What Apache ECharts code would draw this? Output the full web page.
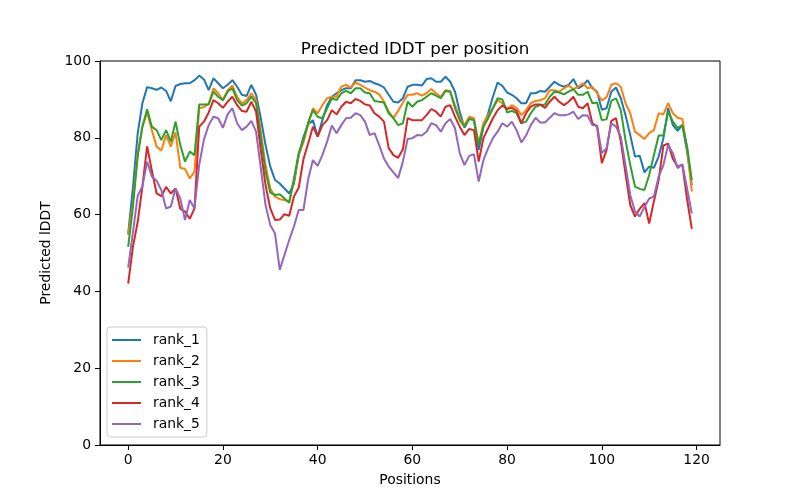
<!DOCTYPE html>
<html>
<head>
<meta charset="utf-8">
<script src="https://cdn.jsdelivr.net/npm/echarts@6/dist/echarts.min.js"></script>
<style>html,body{margin:0;padding:0;background:#fff}#c{width:800px;height:500px}</style>
</head>
<body>
<div id="c"></div>
<script>
const seriesNames = ["rank_1", "rank_2", "rank_3", "rank_4", "rank_5"];
const seriesColors = ["#1f77b4", "#ff7f0e", "#2ca02c", "#d62728", "#9467bd"];
const xTicks = [0, 20, 40, 60, 80, 100, 120];
const yTicks = [0, 20, 40, 60, 80, 100];

const rank_1 = [55,67,81,89,93.2,92.9,92.5,93.1,92.2,89.5,93.5,94,94.2,94.2,95,96.2,95.2,92.4,95.5,94.2,
92.9,93.8,95,93.3,91.2,90.9,93.8,91.2,85.1,78.1,72.5,69,68.1,66.8,65.5,68.1,75.5,80.2,83.5,84.6,
80.3,84.6,88.5,90.7,91.6,92.4,92.9,92.9,95,95,94.6,94.8,94.2,93.8,93.1,91.2,89.4,89.2,90.3,93.3,
93.8,93.8,93.6,95.3,95.5,94.6,94.6,95.9,94.6,92,86.8,82.6,85.1,84.6,76.8,82.9,86.4,90.7,94.4,93.5,
91.8,91.2,90.3,89,89,91.6,91.6,92.2,92,93.3,94.6,93.8,93.3,93.8,95.3,92.9,93.6,95,92.9,92,
87.3,87.7,92,93.1,90.3,85.9,80.7,75.1,75.3,71,72.5,72.2,75.1,79.9,87.7,83.3,81.8,83.3,76.4,67.7];

const rank_2 = [54.7,62.9,76,82.9,86.6,82,77.7,76.7,80.7,77.7,81.4,72.2,71.9,69.4,71.2,87.7,88,88.9,92.9,91.6,
89.8,92.4,93.6,90.7,88.9,89.8,91.6,89.8,81.6,72.9,66.8,64.7,64,63.8,63.4,68.6,75.5,78.8,83.5,87.7,
86.4,88.5,90.3,90.7,90.7,93.3,93.8,93.1,94.4,93.8,93.1,92.4,92,91.3,89.4,86.8,85.2,87,89.2,91.2,
91.2,91.6,91,91.6,92.7,91.6,90.7,92.4,92.2,88.5,85.1,83.3,85.5,85.1,78.6,83.8,85.9,87.7,89.8,89,
87.5,88.5,87.8,85.9,87.2,89,89.6,89.8,90.3,92.4,92.4,92,92.9,93.6,92.7,93.3,94.2,92.9,93.3,91.6,
89.7,90.6,93.8,94.2,93.3,89,86.4,81.6,80.7,79.7,81.2,82,86.4,86.1,89,86.4,85.2,84.9,77.3,66];

const rank_3 = [51.6,62,75.1,82.9,87.4,82.9,82,79.4,82,79,84.2,78.1,73.8,76.4,75.5,88.7,88.7,88.7,92,90.7,
89.8,92,92.9,89.8,88.4,89,90.7,89,80.3,71.2,65.7,65.1,65.3,64.2,63.1,69.4,76,79.5,84,87.2,
85.5,85.1,87.7,90.3,89.8,91.6,92.2,91.6,92.9,92.9,91.8,91.6,89.6,89.4,89.2,86.4,85.1,83.3,83.8,89.4,
88.1,89.4,89.8,90.7,91.6,91,90.3,92.2,92,87.7,84.6,82.9,84.9,84.6,78.1,82.9,85.1,87.7,90.3,90,
86.6,87,86.4,83.8,84.2,86.4,88.1,88.5,88.7,90.7,92,91.8,91.3,92,92.7,91.2,91.2,92,89,89.2,
84.6,84.8,89.6,90.3,87.2,79.4,72.9,67.3,66.7,66.4,70.3,75.5,80.6,80.6,86.8,84.2,82.5,83.3,77.7,69];

const rank_4 = [42,51.6,58,67.3,77.8,71.4,65.5,64.8,67.2,65.5,66.8,61.5,60.8,58.9,61.6,82.9,84.2,86.6,89.8,89,
87.8,89.4,90.7,88.5,87,86.8,89.4,86.8,76.8,67.7,61.6,58.6,58.7,60.1,59.7,64.7,67,74.4,78.5,82.9,
80.3,83.3,84.6,87.2,86.1,88.1,89.4,89,90.1,89.6,88.7,88.4,86.4,85.5,84.2,77.3,75.5,74.8,77,85.1,
84.6,84.6,84.6,85.9,87.5,86.8,85.5,88.1,88.5,85.5,82.9,80.7,82.3,82,73.8,79.9,82.5,85.1,87.2,88.4,
87.5,87.8,87,83.8,86.4,88.1,88.7,88.7,87.8,89.4,90.7,89.4,88.5,89.4,90.7,88.1,87.7,89,83.8,82.9,
73.4,76.8,84.4,85.1,79,70.7,62.5,59.5,61.5,63,57.7,63.5,69,78,78.5,74.5,72.5,73,64,56.3];

const rank_5 = [46.2,55.3,64.9,67.3,73.8,69.9,68.8,66.4,61.6,62.1,66.8,64.2,58.6,63.8,61.6,73,79.6,83.3,85.5,85.1,
82.6,86.1,87.7,83.8,82,82.9,84.4,81.6,72.1,62.5,57.3,55.1,45.6,49.5,53.4,56.9,61.2,61.2,69.2,74.2,
72.7,75.5,79,83.2,81.2,83.3,85.1,85.2,86.4,85.9,84.2,80.7,81.2,78.1,74.6,72.5,71,69.5,73.8,79.7,
79.9,80.7,80.6,81.6,83.8,83.3,81.6,83.8,84.9,82.5,76,72.9,75.3,75.7,68.6,74.2,77.3,79.9,81.6,83.8,
82.9,84.2,82,78.8,80.6,83.3,85.2,84,84,85.2,86.4,85.9,85.9,86.1,86.8,84.9,85.9,85.8,83.3,83.2,
76,77.3,83.8,82.9,80.3,72.9,65.1,60.8,59.5,62,64.2,64.7,69.9,72.9,78.1,76,72.1,73.1,66.8,60.3];

const allSeries = [rank_1, rank_2, rank_3, rank_4, rank_5];
const FONT = "DejaVu Sans";

const chart = echarts.init(document.getElementById('c'), null, {renderer: 'canvas'});
chart.setOption({
  animation: false,
  backgroundColor: '#ffffff',
  textStyle: {fontFamily: FONT},
  title: {
    text: 'Predicted lDDT per position',
    left: 410, top: 36, textAlign: 'center',
    textStyle: {fontFamily: FONT, fontSize: 16.7, fontWeight: 'normal', color: '#000'}
  },
  grid: {left: 100, right: 80, top: 61, bottom: 55, show: true, borderColor: '#000', borderWidth: 1, backgroundColor: 'transparent'},
  legend: {
    orient: 'vertical', left: 107, top: 327,
    padding: [6, 7, 6, 5],
    itemWidth: 29, itemHeight: 2, itemGap: 7,
    icon: 'rect',
    backgroundColor: 'rgba(255,255,255,0.8)', borderColor: '#cccccc', borderWidth: 1, borderRadius: 3,
    textStyle: {fontFamily: FONT, fontSize: 13.9, lineHeight: 14, color: '#000', padding: [0, 0, 0, 7]},
    data: seriesNames
  },
  xAxis: {
    type: 'value', min: -5.95, max: 124.95, splitNumber: 7,
    name: 'Positions', nameLocation: 'middle', nameGap: 28,
    nameTextStyle: {fontFamily: FONT, fontSize: 13.9, color: '#000'},
    axisLine: {onZero: false, lineStyle: {color: '#000', width: 1}},
    axisTick: {show: true, length: 5, lineStyle: {color: '#000'}},
    axisLabel: {fontFamily: FONT, fontSize: 13.9, color: '#000', margin: 8, showMinLabel: false, showMaxLabel: false,
      formatter: v => xTicks.indexOf(v) >= 0 ? String(v) : ''},
    splitLine: {show: false}
  },
  yAxis: {
    type: 'value', min: yTicks[0], max: yTicks[yTicks.length - 1], interval: 20,
    name: 'Predicted lDDT', nameLocation: 'middle', nameGap: 38,
    nameTextStyle: {fontFamily: FONT, fontSize: 13.9, color: '#000'},
    axisLine: {show: true, onZero: false, lineStyle: {color: '#000', width: 1}},
    axisTick: {show: true, length: 5, lineStyle: {color: '#000'}},
    axisLabel: {fontFamily: FONT, fontSize: 13.9, color: '#000', margin: 9},
    splitLine: {show: false}
  },
  series: seriesNames.map((n, k) => ({
    name: n, type: 'line', showSymbol: false, symbol: 'none',
    data: allSeries[k].map((v, i) => [i, v]),
    lineStyle: {color: seriesColors[k], width: 2},
    itemStyle: {color: seriesColors[k]},
    emphasis: {disabled: true}
  }))
});
</script>
</body>
</html>
